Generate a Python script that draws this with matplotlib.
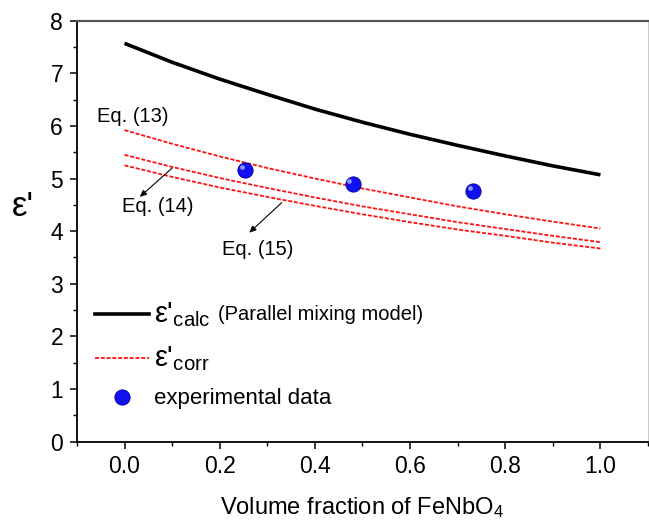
import matplotlib
matplotlib.use("Agg")
import matplotlib.pyplot as plt
import matplotlib.transforms as mtransforms
from matplotlib.lines import Line2D
from matplotlib.ticker import MultipleLocator

plt.rcParams['font.family'] = ['Liberation Sans', 'DejaVu Sans']
plt.rcParams['mathtext.fontset'] = 'custom'
plt.rcParams['mathtext.rm'] = 'Liberation Sans'
plt.rcParams['mathtext.it'] = 'Liberation Sans'

# --- data ---
vf = [0.0, 0.1, 0.2, 0.3, 0.4, 0.5, 0.6, 0.7, 0.8, 0.9, 1.0]
eps_calc = [7.57, 7.21, 6.89, 6.60, 6.32, 6.07, 5.84, 5.63, 5.43, 5.24, 5.07]
eps_eq13 = [5.92, 5.66, 5.42, 5.20, 5.00, 4.81, 4.64, 4.47, 4.32, 4.18, 4.05]
eps_eq14 = [5.45, 5.22, 5.01, 4.82, 4.64, 4.47, 4.32, 4.17, 4.04, 3.91, 3.79]
eps_eq15 = [5.25, 5.03, 4.83, 4.65, 4.48, 4.32, 4.17, 4.03, 3.91, 3.78, 3.67]

exp_vf = [0.253, 0.479, 0.733]
exp_eps = [5.17, 4.90, 4.77]

fig = plt.figure(figsize=(6.49, 5.27), dpi=100)
ax = fig.add_axes([0.1186, 0.1622, 0.8799, 0.7985])

ax.plot(vf, eps_calc, color='black', lw=2.6, solid_capstyle='butt')
dash = dict(color='#ff1010', lw=1.3, dashes=(2.2, 1.0))
ax.plot(vf, eps_eq13, **dash)
ax.plot(vf, eps_eq14, **dash)
ax.plot(vf, eps_eq15, **dash)

# spheres: blue ball + small highlight
ax.plot(exp_vf, exp_eps, 'o', ms=11, color='#1010f0', mec='#0000a0', mew=0.6, zorder=5)
hl = mtransforms.offset_copy(ax.transData, fig=fig, x=-2.2, y=2.2, units='points')
ax.plot(exp_vf, exp_eps, 'o', ms=3.4, color='#9fa8ff', mec='none', alpha=0.9,
        transform=hl, zorder=6)

# equation labels
ax.text(-0.058, 6.18, 'Eq. (13)', fontsize=14.5, va='center', ha='left')
ax.text(0.07, 4.47, 'Eq. (14)', fontsize=14.5, va='center', ha='center')
ax.text(0.28, 3.65, 'Eq. (15)', fontsize=14.5, va='center', ha='center')
arr = dict(arrowstyle='-|>,head_length=0.4,head_width=0.18', color='black', lw=0.8,
           shrinkA=0, shrinkB=0)
ax.annotate('', xy=(0.032, 4.65), xytext=(0.10, 5.20), arrowprops=arr)
ax.annotate('', xy=(0.262, 3.97), xytext=(0.33, 4.54), arrowprops=arr)

ax.set_xlim(-0.1, 1.1)
ax.set_ylim(0, 8)
ax.xaxis.set_major_locator(MultipleLocator(0.2))
ax.xaxis.set_minor_locator(MultipleLocator(0.1))
ax.yaxis.set_major_locator(MultipleLocator(1))
ax.yaxis.set_minor_locator(MultipleLocator(0.5))
ax.set_xticks([0.0, 0.2, 0.4, 0.6, 0.8, 1.0])
ax.set_xticklabels(['0.0', '0.2', '0.4', '0.6', '0.8', '1.0'])
ax.tick_params(which='major', direction='out', length=5, width=1.1, labelsize=16.5, pad=5)
ax.tick_params(which='minor', direction='out', length=3, width=1.0)
ax.tick_params(axis='x', which='both', top=False)
ax.tick_params(axis='y', which='both', right=False)

for s in ['left', 'bottom']:
    ax.spines[s].set_linewidth(1.3)
ax.spines['top'].set_color('#555555')
ax.spines['top'].set_linewidth(1.6)
ax.spines['right'].set_color('#cccccc')
ax.spines['right'].set_linewidth(0.8)

ax.set_xlabel('Volume fraction of FeNbO$_4$', fontsize=17, labelpad=12)
ax.set_ylabel("ε'", fontsize=25, rotation=0, va='center')
ax.yaxis.set_label_coords(-0.095, 0.558)

handles = [
    Line2D([], [], color='black', lw=2.6),
    Line2D([], [], color='#ff1010', lw=1.3, dashes=(2.2, 1.0)),
    Line2D([], [], ls='none', marker='o', ms=11, color='#1010f0', mec='#0000a0', mew=0.6),
]
labels = ["ε'$_{\\mathrm{calc}}$", "ε'$_{\\mathrm{corr}}$", 'experimental data']
leg = ax.legend(handles, labels, loc='upper left', bbox_to_anchor=(0.032, 0.337),
                frameon=False, fontsize=16, handlelength=2.4, handletextpad=0.25,
                labelspacing=0.7, borderpad=0, borderaxespad=0)
leg.get_texts()[0].set_fontsize(21)
leg.get_texts()[1].set_fontsize(21)
ax.text(0.247, 0.302, '(Parallel mixing model)', transform=ax.transAxes, fontsize=14.5,
        va='center', ha='left')

fig.savefig('out.png', dpi=100)
